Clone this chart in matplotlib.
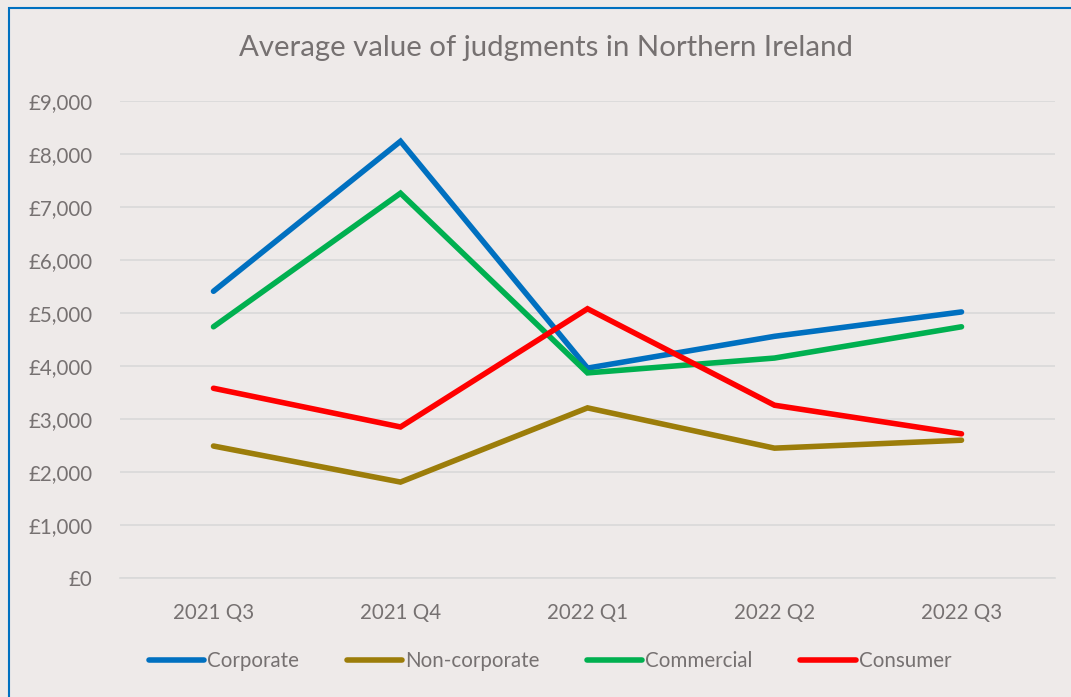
import matplotlib
matplotlib.use("Agg")
import matplotlib.pyplot as plt
from matplotlib.patches import Rectangle
from matplotlib.ticker import FuncFormatter, MultipleLocator

quarters = ["2021 Q3", "2021 Q4", "2022 Q1", "2022 Q2", "2022 Q3"]
corporate = [5410, 8240, 3960, 4560, 5020]
non_corporate = [2490, 1810, 3210, 2450, 2600]
commercial = [4740, 7260, 3870, 4150, 4740]
consumer = [3580, 2850, 5080, 3260, 2720]

series = [
    ("Corporate", corporate, "#0070C0"),
    ("Non-corporate", non_corporate, "#9C7D0A"),
    ("Commercial", commercial, "#00B050"),
    ("Consumer", consumer, "#FF0000"),
]

bg = "#EEEAE9"
txt = "#767171"
plt.rcParams['font.family'] = ['Lato', 'DejaVu Sans']

fig = plt.figure(figsize=(10.71, 6.97), dpi=100)
fig.patch.set_facecolor(bg)
fig.patches.append(Rectangle((9/1071, -0.05), 1.1, 1 - 8/697 + 0.05, transform=fig.transFigure,
                             fill=False, edgecolor="#0070C0", linewidth=1.5))

ax = fig.add_axes([120/1071, 1 - 578/697, (1055 - 120)/1071, (578 - 101)/697])
ax.set_facecolor(bg)
x = list(range(len(quarters)))
for name, vals, col in series:
    ax.plot(x, vals, color=col, linewidth=4, label=name, solid_capstyle="round", solid_joinstyle="miter")

ax.set_xlim(-0.5, len(quarters) - 0.5)
ax.set_ylim(0, 9000)
ax.yaxis.set_major_locator(MultipleLocator(1000))
ax.yaxis.set_major_formatter(FuncFormatter(lambda v, p: f"£{int(v):,}"))
ax.set_xticks(x)
ax.set_xticklabels(quarters)
ax.grid(axis="y", color="#D9D9D9", linewidth=1.2)
ax.set_axisbelow(True)
for s in ax.spines.values():
    s.set_visible(False)
ax.spines["bottom"].set_visible(True)
ax.spines["bottom"].set_color("#D9D9D9")
ax.spines["bottom"].set_linewidth(1.2)
ax.tick_params(axis="both", length=0, colors=txt, labelsize=14.8)
ax.tick_params(axis="y", pad=20)
ax.tick_params(axis="x", pad=18)

fig.text(546/1071, 1 - 48/697, "Average value of judgments in Northern Ireland",
         ha="center", va="center", color=txt, fontsize=21.2)

leg = fig.legend(loc="center", bbox_to_anchor=(550/1071, 1 - 661/697), ncol=4, frameon=False,
                 fontsize=14.8, handlelength=2.7, handletextpad=0.15, columnspacing=2.3)
for t in leg.get_texts():
    t.set_color(txt)

fig.savefig("out.png", dpi=100, facecolor=bg)
